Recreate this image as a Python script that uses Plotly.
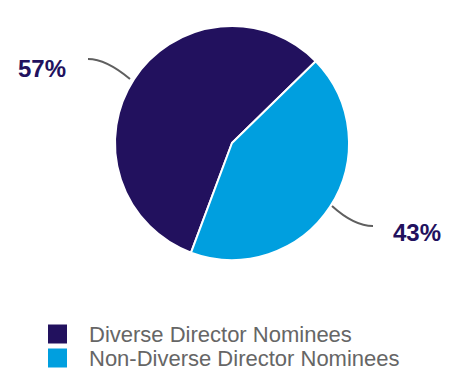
import plotly.graph_objects as go

labels = ["Diverse Director Nominees", "Non-Diverse Director Nominees"]
values = [57, 43]
colors = ["#22115E", "#009FDF"]

W, H = 462, 380
OFF = 8  # default page body margin

def px(x):
    return (x - OFF) / W

def py(y):
    return 1 - (y - OFF) / H

fig = go.Figure()
fig.add_trace(go.Pie(
    labels=labels, values=values, sort=False, direction="clockwise",
    rotation=200.5,
    marker=dict(colors=colors, line=dict(color="white", width=2)),
    textinfo="none", hoverinfo="label+percent", showlegend=False,
    domain=dict(x=[px(115), px(349)], y=[py(260), py(26)]),
))

shapes = []
annotations = []
total = sum(values)
label_pos = [(42, 69), (417, 233)]
for v, (x, y) in zip(values, label_pos):
    annotations.append(dict(
        x=px(x), y=py(y), xref="paper", yref="paper", showarrow=False,
        text="<b>%d%%</b>" % round(100 * v / total),
        font=dict(family="Liberation Sans, Arial", size=24, color="#22115E"),
        xanchor="center", yanchor="middle",
    ))

# leader lines (paper coords)
def path(pts):
    (x0, y0), (cx, cy), (x1, y1) = pts
    return "M %f,%f Q %f,%f %f,%f" % (px(x0), py(y0), px(cx), py(cy), px(x1), py(y1))

for pts in [[(88, 59), (106, 59), (130, 79)], [(332, 206), (354, 226), (373, 226)]]:
    shapes.append(dict(type="path", xref="paper", yref="paper", path=path(pts),
                       line=dict(color="#5f5f5f", width=2)))

# legend
leg_y = [334, 358]
for lab, col, y in zip(labels, colors, leg_y):
    shapes.append(dict(type="rect", xref="paper", yref="paper",
                       x0=px(48), x1=px(67), y0=py(y - 9.5), y1=py(y + 9.5),
                       fillcolor=col, line=dict(width=0)))
    annotations.append(dict(
        x=px(87), y=py(y), xref="paper", yref="paper", showarrow=False,
        text=lab, xanchor="left", yanchor="middle",
        font=dict(family="Liberation Sans, Arial", size=22, color="#666666"),
    ))

fig.update_layout(
    width=W, height=H, margin=dict(l=0, r=0, t=0, b=0),
    paper_bgcolor="white", plot_bgcolor="white",
    shapes=shapes, annotations=annotations,
)
fig.write_html("out.html")
